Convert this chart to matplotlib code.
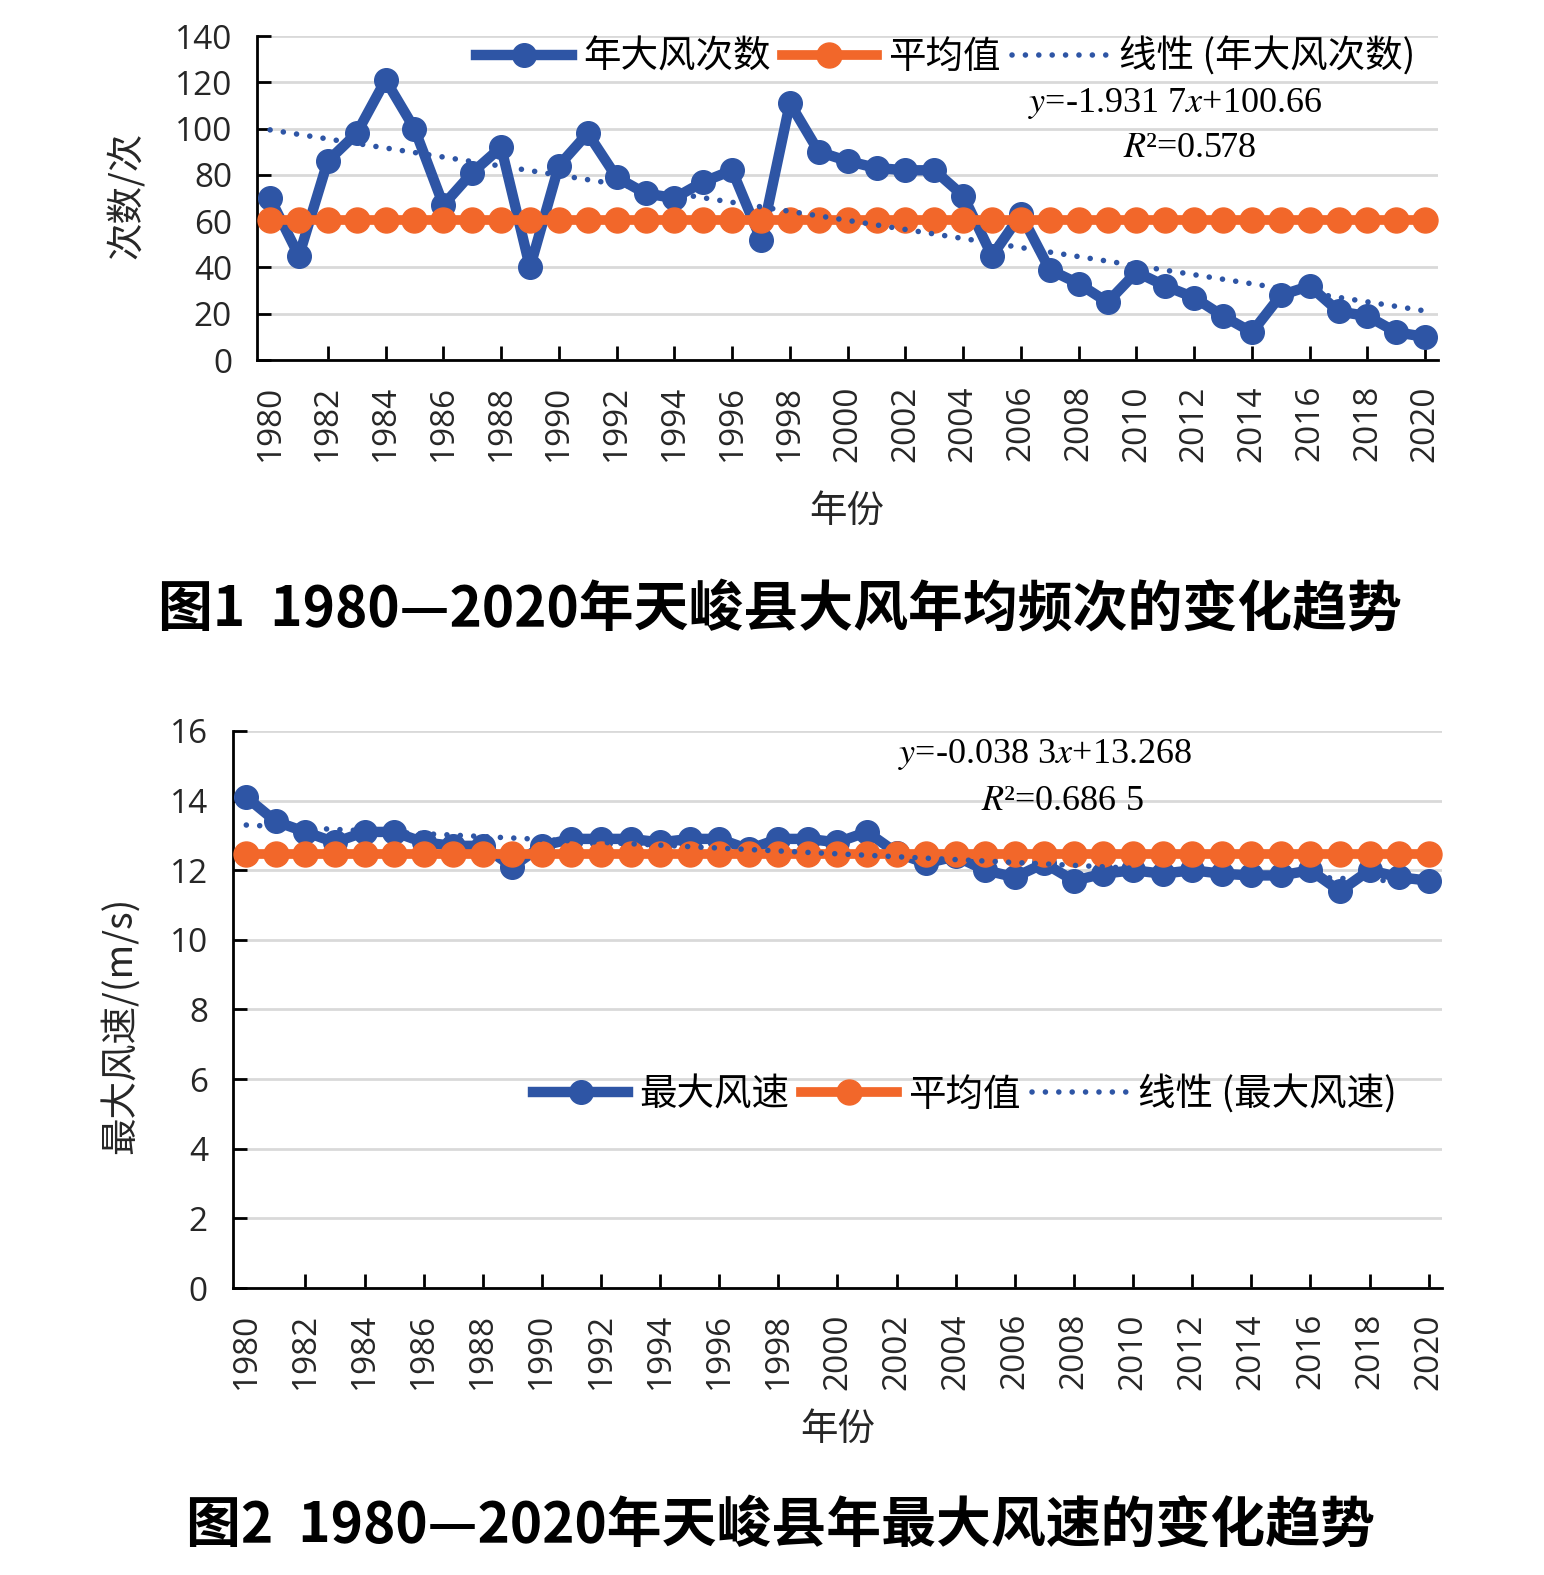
import numpy as np
import matplotlib
matplotlib.use("Agg")
import matplotlib.pyplot as plt

# data
years = list(range(1980, 2021))
gale_counts = [70, 45, 86, 98, 121, 100, 67, 81, 92, 40,
               84, 98, 79, 72, 70, 77, 82, 52, 111, 90,
               86, 83, 82, 82, 71, 45, 63, 39, 33, 25,
               38, 32, 27, 19, 12, 28, 32, 21, 19, 12, 10]
max_speed = [14.1, 13.4, 13.1, 12.8, 13.1, 13.1, 12.8, 12.7, 12.7, 12.1,
             12.7, 12.9, 12.9, 12.9, 12.8, 12.9, 12.9, 12.6, 12.9, 12.9,
             12.8, 13.1, 12.5, 12.2, 12.4, 12.0, 11.8, 12.2, 11.7, 11.9,
             12.0, 11.9, 12.0, 11.9, 11.85, 11.85, 12.0, 11.4, 12.0, 11.8, 11.7]
year_ticks = years[::2]

BLUE = '#2E55A5'
ORANGE = '#F2672A'

plt.rcParams['font.family'] = ['Noto Sans CJK SC', 'DejaVu Sans']
plt.rcParams['mathtext.fontset'] = 'stix'


def draw_panel(ax, values, name, ymax, ystep, ylabel, eq, r2,
               eq_pos, r2_pos, leg_pos, ylab_pos, xlab_pos):
    idx = np.arange(1, len(years) + 1)
    k, b = np.polyfit(idx, values, 1)
    avg = np.mean(values)

    ax.plot(years, values, color=BLUE, lw=7.5, marker='o', ms=17,
            label=name, zorder=3, clip_on=False)
    ax.plot(years, [avg] * len(years), color=ORANGE, lw=7, marker='o', ms=18,
            label='平均值', zorder=4, clip_on=False)
    ax.plot(years, k * idx + b, color=BLUE, lw=4, linestyle=(0, (0.01, 2.4)),
            dash_capstyle='round', label=f'线性 ({name})', zorder=5)

    ax.set_xlim(1979.55, 2020.45)
    ax.set_ylim(0, ymax)
    ax.set_yticks(np.arange(0, ymax + ystep, ystep))
    ax.set_xticks(year_ticks)
    ax.set_xticklabels([str(y) for y in year_ticks], rotation=90)
    ax.xaxis.get_major_ticks()[0].tick1line.set_visible(False)

    ax.grid(axis='y', color='#D9D9D9', lw=2)
    ax.set_axisbelow(True)
    for s in ['top', 'right']:
        ax.spines[s].set_visible(False)
    for s in ['left', 'bottom']:
        ax.spines[s].set_linewidth(2)
    ax.tick_params(direction='in', length=10, width=2, labelsize=24, pad=18,
                   labelcolor='#262626', labelfontfamily='Open Sans')

    ax.set_ylabel(ylabel, fontsize=27, color='#262626')
    ax.yaxis.set_label_coords(*ylab_pos)
    ax.set_xlabel('年份', fontsize=27, color='#262626')
    ax.xaxis.set_label_coords(*xlab_pos)

    ax.text(*eq_pos, eq, transform=ax.transAxes, ha='center', va='center',
            fontsize=26, family='Liberation Serif')
    ax.text(*r2_pos, r2, transform=ax.transAxes, ha='center', va='center',
            fontsize=26, family='Liberation Serif')

    ax.legend(loc='center', bbox_to_anchor=leg_pos, ncol=3, frameon=False,
              fontsize=27, handlelength=2.55, handletextpad=0.3,
              columnspacing=0.3, borderaxespad=0, borderpad=0)


fig = plt.figure(figsize=(15.44, 15.75), dpi=100)
ax1 = fig.add_axes([0.1665, 0.7714, 0.765, 0.2057])
ax2 = fig.add_axes([0.1509, 0.1822, 0.783, 0.3537])

draw_panel(ax1, gale_counts, '年大风次数', 140, 20, '次数/次',
           r'$y$=-1.931 7$x$+100.66', r'$R$²=0.578',
           (0.777, 0.793), (0.790, 0.654), (0.583, 0.935),
           (-0.094, 0.509), (0.4996, -0.407))
draw_panel(ax2, max_speed, '最大风速', 16, 2, '最大风速/(m/s)',
           r'$y$=-0.038 3$x$+13.268', r'$R$²=0.686 5',
           (0.672, 0.957), (0.686, 0.8725), (0.6055, 0.3465),
           (-0.076, 0.472), (0.5004, -0.219))

fig.text(780 / 1544, 1 - 610 / 1575, '图1  1980—2020年天峻县大风年均频次的变化趋势',
         ha='center', va='center', fontsize=39.5, fontweight='bold')
fig.text(780 / 1544, 1 - 1525 / 1575, '图2  1980—2020年天峻县年最大风速的变化趋势',
         ha='center', va='center', fontsize=39.5, fontweight='bold')

fig.savefig('out.png', dpi=100)
